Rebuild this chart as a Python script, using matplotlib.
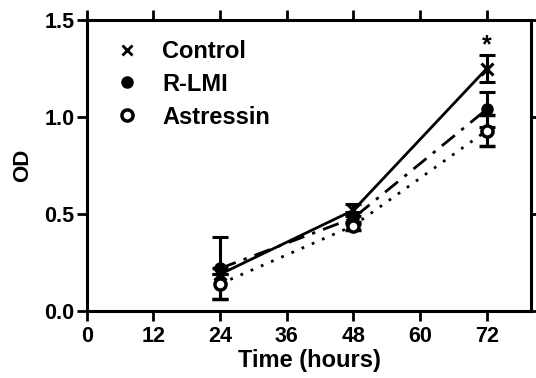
import matplotlib.pyplot as plt
from matplotlib.lines import Line2D

plt.rcParams['font.family'] = ['Liberation Sans', 'DejaVu Sans']
plt.rcParams['font.weight'] = 'bold'

# time points (hours)
hours = [24, 48, 72]

# OD readings and error (SD) per group
control = [0.19, 0.52, 1.25]
control_err = [0.0, 0.03, 0.07]
rlmi = [0.22, 0.48, 1.04]
rlmi_err = [0.16, 0.03, 0.09]
astressin = [0.14, 0.44, 0.93]
astressin_err = [0.08, 0.02, 0.08]

xticks = [0, 12, 24, 36, 48, 60, 72]
yticks = [0.0, 0.5, 1.0, 1.5]

fig = plt.figure(figsize=(5.36, 3.78), dpi=100)
ax = fig.add_axes([0.162, 0.177, 0.829, 0.77])

ekw = dict(ecolor='black', elinewidth=2.2, capsize=5.5, capthick=2.2, color='black', lw=2)
ax.errorbar(hours, control, yerr=control_err, ls='-', marker='x', ms=8, mew=2.2, **ekw)
ax.errorbar(hours, rlmi, yerr=rlmi_err, ls=(0, (6, 3, 1.2, 3)), marker='o', ms=8, **ekw)
ax.errorbar(hours, astressin, yerr=astressin_err, ls=(0, (1, 3)), marker='o', ms=8,
            mfc='white', mew=2.5, **ekw)

# significance mark
ax.text(72, 1.37, '*', ha='center', va='center', fontsize=18)

ax.set_xlim(0, 80)
ax.set_ylim(0, 1.5)
ax.set_xticks(xticks)
ax.set_yticks(yticks)
ax.set_yticklabels(['0.0', '0.5', '1.0', '1.5'])
ax.tick_params(axis='both', which='both', direction='out', length=7, width=2,
               labelsize=15.5, top=True, right=True, pad=2)
ax.tick_params(axis='x', pad=4)
for s in ax.spines.values():
    s.set_linewidth(2.2)
ax.set_xlabel('Time (hours)', fontsize=17, fontweight='bold', labelpad=1)
ax.set_ylabel('OD', fontsize=16, fontweight='bold', labelpad=8)

handles = [
    Line2D([], [], ls='none', marker='x', ms=7, mew=2, color='black'),
    Line2D([], [], ls='none', marker='o', ms=8, color='black'),
    Line2D([], [], ls='none', marker='o', ms=8, mfc='white', mew=2.5, color='black'),
]
ax.legend(handles, ['Control', 'R-LMI', 'Astressin'], loc='upper left', frameon=False,
          fontsize=17, handlelength=1.0, handletextpad=1.0, labelspacing=0.42,
          bbox_to_anchor=(0.015, 1.005))

fig.savefig('out.png', dpi=100)
